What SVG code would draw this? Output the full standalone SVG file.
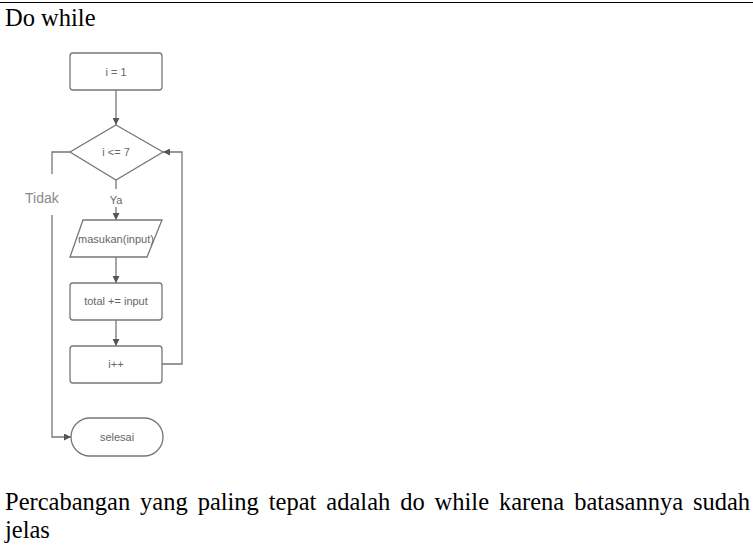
<svg xmlns="http://www.w3.org/2000/svg" width="753" height="550" viewBox="0 0 753 550">
<defs>
<style>
.doc{font-family:'Liberation Serif','Times New Roman',serif;font-size:24.5px;fill:#000}
.shape{fill:#fff;stroke:#777;stroke-width:1.3}
.lbl{font-family:'Liberation Sans',Arial,sans-serif;font-size:11px;fill:#666;text-anchor:middle}
.edge{fill:none;stroke:#777;stroke-width:1.3}
.tidak{font-family:'Liberation Sans',Arial,sans-serif;font-size:14px;fill:#8a8a8a}
</style>
<marker id="arr" viewBox="0 0 10 10" refX="10" refY="5" markerWidth="7" markerHeight="7" markerUnits="userSpaceOnUse" orient="auto">
<path d="M0,0 L10,5 L0,10 z" fill="#555"/>
</marker>
</defs>
<rect width="753" height="550" fill="#fff"/>
<line x1="0" y1="2.5" x2="753" y2="2.5" stroke="#000" stroke-width="1"/>
<text class="doc" x="5" y="25.5">Do while</text>

<g id="connectors">
<line class="edge" x1="116" y1="90" x2="116" y2="125" marker-end="url(#arr)"/>
<line class="edge" x1="116" y1="180" x2="116" y2="189"/>
<line class="edge" x1="116" y1="207" x2="116" y2="220" marker-end="url(#arr)"/>
<line class="edge" x1="116" y1="257" x2="116" y2="283" marker-end="url(#arr)"/>
<line class="edge" x1="116" y1="320" x2="116" y2="346" marker-end="url(#arr)"/>
<polyline class="edge" points="162,364 182,364 182,152 163,152" marker-end="url(#arr)"/>
<polyline class="edge" points="70,152 52,152 52,174"/>
<polyline class="edge" points="52,215 52,437 71,437" marker-end="url(#arr)"/>
<text class="lbl" x="116" y="203.5">Ya</text>
<text class="tidak" x="25" y="203">Tidak</text>
</g>

<g id="n-init">
<rect class="shape" x="70" y="53" width="92" height="37" rx="3"/>
<text class="lbl" x="116" y="75.5">i = 1</text>
</g>
<g id="n-cond">
<polygon class="shape" points="116,125 163,152 116,180 70,152"/>
<text class="lbl" x="116" y="155.5">i &lt;= 7</text>
</g>
<g id="n-input">
<polygon class="shape" points="83,220 162,220 147,257 70,257"/>
<text class="lbl" x="116" y="243">masukan(input)</text>
</g>
<g id="n-total">
<rect class="shape" x="70" y="283" width="92" height="37" rx="3"/>
<text class="lbl" x="116" y="304.5">total += input</text>
</g>
<g id="n-inc">
<rect class="shape" x="70" y="346" width="92" height="37" rx="3"/>
<text class="lbl" x="116" y="368">i++</text>
</g>
<g id="n-end">
<rect class="shape" x="71" y="418" width="92" height="38" rx="19"/>
<text class="lbl" x="117" y="441">selesai</text>
</g>

<text class="doc" x="5" y="510" word-spacing="3.8">Percabangan yang paling tepat adalah do while karena batasannya sudah</text>
<text class="doc" x="5" y="538">jelas</text>
</svg>
